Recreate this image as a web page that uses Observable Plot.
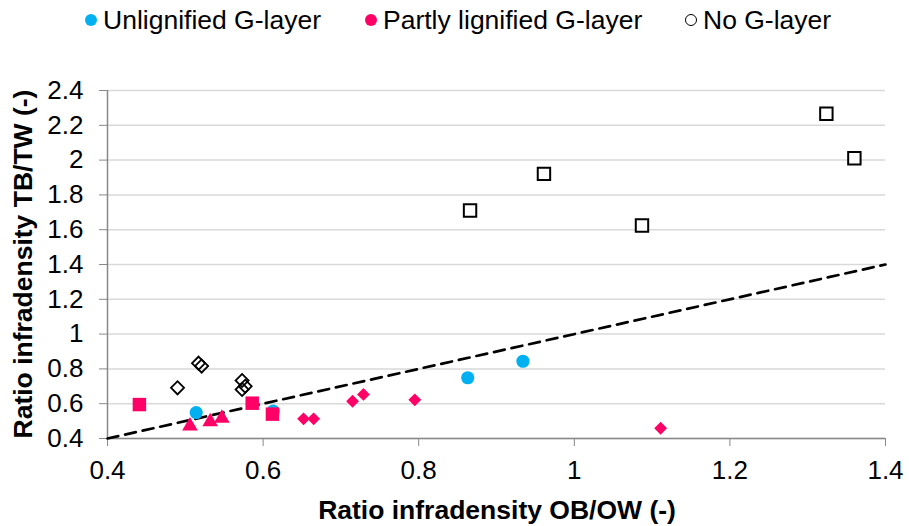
<!DOCTYPE html>
<html><head><meta charset="utf-8">
<script src="https://cdn.jsdelivr.net/npm/d3@7"></script>
<script src="https://cdn.jsdelivr.net/npm/@observablehq/plot@0.6"></script>
<style>
body{margin:0;background:#fff;font-family:"Liberation Sans",Arial,sans-serif;}
#legend{position:relative;height:38px;width:909px;}
.item{position:absolute;top:0;height:40px;display:flex;align-items:center;font-size:26.5px;color:#000;white-space:nowrap;}
.sw{width:12px;height:12px;border-radius:50%;margin-right:6px;box-sizing:border-box;}
#chart svg{display:block;}
</style></head><body>
<div id="legend"></div>
<div id="chart"></div>
<script>
// Series names
const seriesNames = ["Unlignified G-layer", "Partly lignified G-layer", "No G-layer"];
// Unlignified G-layer (blue circles)
const unligX = [0.514, 0.613, 0.863, 0.934];
const unligY = [0.549, 0.557, 0.749, 0.844];
// Partly lignified G-layer (pink squares, triangles, diamonds)
const partSqX = [0.441, 0.586, 0.612];
const partSqY = [0.595, 0.603, 0.540];
const partTriX = [0.506, 0.532, 0.547];
const partTriY = [0.472, 0.496, 0.516];
const partDiaX = [0.652, 0.665, 0.715, 0.729, 0.795, 1.111];
const partDiaY = [0.513, 0.513, 0.614, 0.653, 0.622, 0.459];
// No G-layer (hollow diamonds and squares)
const noDiaX = [0.490, 0.517, 0.521, 0.573, 0.577, 0.573];
const noDiaY = [0.691, 0.833, 0.816, 0.733, 0.700, 0.682];
const noSqX = [0.866, 0.961, 1.087, 1.324, 1.360];
const noSqY = [1.710, 1.921, 1.624, 2.266, 2.011];
// 1:1 reference line
const refLine = [0.4, 1.4];
// Ticks
const xTicks = [0.4, 0.6, 0.8, 1, 1.2, 1.4];
const yTicks = [0.4, 0.6, 0.8, 1, 1.2, 1.4, 1.6, 1.8, 2, 2.2, 2.4];
const xTitle = "Ratio infradensity OB/OW (-)";
const yTitle = "Ratio infradensity TB/TW (-)";

const BLUE = "#00B0F0", PINK = "#FF0066";
const pts = (xs, ys) => xs.map((x, i) => ({x, y: ys[i]}));
const fmt = d => String(+d.toFixed(1));

// Legend (HTML, above the SVG)
const legend = document.getElementById("legend");
const legendLayout = [
  {left: 85, fill: BLUE, stroke: "none"},
  {left: 365, fill: PINK, stroke: "none"},
  {left: 685, fill: "#fff", stroke: "#000"}
];
seriesNames.forEach((name, i) => {
  const L = legendLayout[i];
  const it = document.createElement("div");
  it.className = "item";
  it.style.left = L.left + "px";
  const sw = document.createElement("span");
  sw.className = "sw";
  sw.style.background = L.fill;
  if (L.stroke !== "none") sw.style.border = "1.6px solid " + L.stroke;
  it.appendChild(sw);
  const t = document.createElement("span");
  t.textContent = name;
  it.appendChild(t);
  legend.appendChild(it);
});

const chart = Plot.plot({
  width: 909, height: 488,
  marginLeft: 107, marginRight: 24, marginTop: 52, marginBottom: 88,
  x: {domain: [0.4, 1.4], label: null},
  y: {domain: [0.4, 2.4], label: null},
  style: {fontFamily: "'Liberation Sans', Arial, sans-serif", fontSize: "26px", color: "#000", background: "#fff", overflow: "visible"},
  marks: [
    Plot.gridY(yTicks, {stroke: "#d9d9d9", strokeOpacity: 1, strokeWidth: 1.5}),
    Plot.ruleY([0.4], {stroke: "#888", strokeWidth: 1.5}),
    Plot.ruleX([0.4], {stroke: "#888", strokeWidth: 1.5}),
    Plot.axisY(yTicks, {tickSize: 8, tickPadding: 16, stroke: "#888", fill: "#000", tickFormat: fmt, label: null, fontSize: 26}),
    Plot.axisX(xTicks, {tickSize: 8, tickPadding: 14, stroke: "#888", fill: "#000", tickFormat: fmt, label: null, fontSize: 26}),
    Plot.line(pts(refLine, refLine), {x: "x", y: "y", stroke: "#000", strokeWidth: 2.7, strokeDasharray: "11,7"}),
    Plot.dot(pts(noDiaX, noDiaY), {x: "x", y: "y", symbol: "square", rotate: 45, r: 5.2, fill: "none", stroke: "#000", strokeWidth: 1.8}),
    Plot.dot(pts(noSqX, noSqY), {x: "x", y: "y", symbol: "square", r: 7, fill: "#fff", stroke: "#000", strokeWidth: 2}),
    Plot.dot(pts(unligX, unligY), {x: "x", y: "y", r: 6.6, fill: BLUE}),
    Plot.dot(pts(partDiaX, partDiaY), {x: "x", y: "y", symbol: "square", rotate: 45, r: 5.1, fill: PINK}),
    Plot.dot(pts(partTriX, partTriY), {x: "x", y: "y", symbol: "triangle", r: 5.8, fill: PINK}),
    Plot.dot(pts(partSqX, partSqY), {x: "x", y: "y", symbol: "square", r: 7.6, fill: PINK})
  ]
});
document.getElementById("chart").appendChild(chart);

// Axis titles
const svg = d3.select(chart);
svg.append("text").attr("x", 497).attr("y", 481).attr("text-anchor", "middle")
  .attr("font-weight", "bold").attr("font-size", 26.5).attr("fill", "#000").text(xTitle);
svg.append("text").attr("transform", "translate(32,226) rotate(-90)").attr("text-anchor", "middle")
  .attr("font-weight", "bold").attr("font-size", 26.5).attr("fill", "#000").text(yTitle);
</script>
</body></html>
